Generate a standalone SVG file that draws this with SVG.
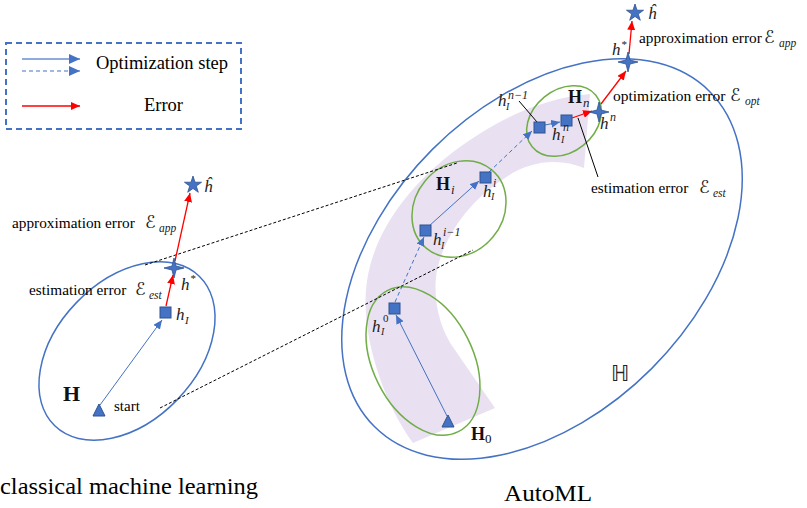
<svg xmlns="http://www.w3.org/2000/svg" xmlns:xlink="http://www.w3.org/1999/xlink" width="807" height="508" viewBox="0 0 807 508">
<style>
.t{font-family:"Liberation Serif",serif;fill:#000}
.m{font-family:"Liberation Serif","DejaVu Serif",serif;font-style:italic;fill:#222}
.b{font-family:"Liberation Serif","DejaVu Serif",serif;font-weight:bold;fill:#111}
.scr{font-family:"DejaVu Serif","DejaVu Sans",serif;font-style:italic;fill:#222}
.ds{font-family:"DejaVu Sans","Noto Sans",sans-serif;fill:#222}
.sq{fill:#4472C4;stroke:#2F528F;stroke-width:1}
.st{fill:#4472C4;stroke:#2F528F;stroke-width:0.8}
.ab{stroke:#4472C4;stroke-width:1;fill:none;marker-end:url(#mb)}
.ad{stroke:#4472C4;stroke-width:1;fill:none;stroke-dasharray:4,3;marker-end:url(#mb)}
.ar{stroke:#FF0000;stroke-width:1.3;fill:none;marker-end:url(#mr)}
.blk{stroke:#000;stroke-width:1;fill:none;stroke-dasharray:3,2}
.ell{fill:none;stroke:#4472C4;stroke-width:1.5}
.gr{fill:none;stroke:#70AD47;stroke-width:1.5}
.ld{stroke:#000;stroke-width:1;fill:none}
</style>
<defs>
<marker id="mb" markerUnits="userSpaceOnUse" markerWidth="9" markerHeight="8" refX="9" refY="4" orient="auto"><path d="M0,0 L9,4 L0,8 z" fill="#4472C4"/></marker>
<marker id="mr" markerUnits="userSpaceOnUse" markerWidth="9" markerHeight="8" refX="9" refY="4" orient="auto"><path d="M0,0 L9,4 L0,8 z" fill="#FF0000"/></marker>
<marker id="mbl" markerUnits="userSpaceOnUse" markerWidth="11" markerHeight="10" refX="11" refY="5" orient="auto"><path d="M0,0 L11,5 L0,10 z" fill="#4472C4"/></marker>
<path id="star5" d="M0,-9 L2.02,-2.78 L8.56,-2.78 L3.27,1.06 L5.29,7.28 L0,3.44 L-5.29,7.28 L-3.27,1.06 L-8.56,-2.78 L-2.02,-2.78Z"/>
<path id="star4" d="M0,-10 L2,-2 L10,0 L2,2 L0,10 L-2,2 L-10,0 L-2,-2Z"/>
</defs>
<rect width="807" height="508" fill="#fff"/>

<g id="legend">
<rect x="6" y="43" width="235" height="86" fill="none" stroke="#4472C4" stroke-width="2" stroke-dasharray="6,4"/>
<line x1="22" y1="59" x2="80" y2="59" stroke="#8FAADC" stroke-width="2" marker-end="url(#mbl)"/>
<line x1="22" y1="71" x2="80" y2="71" stroke="#4472C4" stroke-width="1.2" stroke-dasharray="4,3" marker-end="url(#mbl)"/>
<line x1="22" y1="106" x2="80" y2="106" stroke="#FF0000" stroke-width="1.5" marker-end="url(#mr)"/>
<text class="t" x="96" y="69" font-size="18.5">Optimization step</text>
<text class="t" x="144" y="111" font-size="18.5">Error</text>
</g>

<g id="band">
<path d="M413,443 C385,405 362,340 366,290 C370,235 410,180 470,140 C505,116 545,98 590,94 L584,168 C560,158 530,160 505,178 C470,200 445,235 437,270 C432,300 440,330 455,350 L495,408 Z" fill="#E9E1F1"/>
</g>

<g id="space-H-classical">
<ellipse class="ell" cx="127" cy="351" rx="70" ry="104" transform="rotate(44 127 351)"/>
<text class="b" x="63" y="401" font-size="22">H</text>
</g>

<g id="space-HH">
<ellipse class="ell" cx="542" cy="259" rx="155" ry="237" transform="rotate(45 542 259)"/>
<text class="ds" x="611" y="381" font-size="22">ℍ</text>
</g>

<g id="space-H0">
<ellipse class="gr" cx="423" cy="361" rx="50" ry="79" transform="rotate(-26.5 423 361)"/>
<text class="b" x="471" y="440" font-size="18">H<tspan font-size="13" font-weight="normal" dy="3">0</tspan></text>
</g>
<g id="space-Hi">
<ellipse class="gr" cx="459" cy="209" rx="44" ry="51" transform="rotate(40 459 209)"/>
<text class="b" x="436" y="190" font-size="18">H</text>
<text class="m" x="451" y="194" font-size="13">i</text>
</g>
<g id="space-Hn">
<ellipse class="gr" cx="564" cy="121" rx="31" ry="41" transform="rotate(51 564 121)"/>
<text class="b" x="568" y="103" font-size="18">H</text>
<text class="m" x="583" y="107" font-size="13">n</text>
</g>

<g id="connectors">
<line class="blk" x1="145" y1="265" x2="457" y2="163"/>
<line class="blk" x1="160" y1="408" x2="473" y2="250"/>
<line class="ab" x1="100" y1="405" x2="162" y2="320"/>
<line class="ar" x1="166" y1="306" x2="173" y2="275"/>
<line class="ar" x1="175" y1="261" x2="190" y2="193"/>
<line class="ab" x1="447" y1="416" x2="396" y2="315"/>
<line class="ad" x1="395" y1="302" x2="424" y2="237"/>
<line class="ab" x1="429" y1="226" x2="479" y2="181"/>
<line class="ad" x1="489" y1="172" x2="532" y2="131"/>
<line class="ab" x1="545" y1="125" x2="560" y2="122"/>
<line class="ar" x1="572" y1="118" x2="592" y2="111"/>
<line class="ar" x1="601" y1="104" x2="626" y2="71"/>
<line class="ar" x1="629" y1="54" x2="632" y2="21"/>
<line class="ld" x1="519" y1="101" x2="537" y2="122"/>
<line class="ld" x1="578" y1="118" x2="598" y2="177"/>
</g>

<g id="start">
<path class="sq" d="M99,404 L105,416 L93,416 Z"/>
<text class="t" x="114" y="411" font-size="15">start</text>
</g>
<g id="hI-classical">
<rect class="sq" x="160" y="307" width="11" height="11"/>
<text class="m" x="176" y="320" font-size="17">h</text>
<text class="m" x="185" y="324" font-size="11">I</text>
</g>
<g id="hstar-classical">
<use href="#star4" x="174" y="268" class="st"/>
<text class="m" x="181" y="290" font-size="17">h</text>
<text class="m" x="190" y="282" font-size="11">*</text>
<text class="t" x="29" y="295" font-size="15.3">estimation error</text>
<text class="scr" x="135" y="295" font-size="17.5">ℰ</text>
<text class="m" x="149" y="299" font-size="11.5">est</text>
</g>
<g id="hhat-classical">
<use href="#star5" x="193" y="185" class="st"/>
<text class="m" x="204" y="192" font-size="17">ĥ</text>
<text class="t" x="12" y="228" font-size="15.3">approximation error</text>
<text class="scr" x="145" y="228" font-size="17.5">ℰ</text>
<text class="m" x="159" y="232" font-size="11.5">app</text>
</g>

<g id="start-H0">
<path class="sq" d="M448,415 L454,427 L442,427 Z"/>
</g>
<g id="hI0">
<rect class="sq" x="389" y="303" width="11" height="11"/>
<text class="m" x="372" y="332" font-size="17">h</text>
<text class="m" x="383" y="322" font-size="11" style="font-style:normal">0</text>
<text class="m" x="381" y="335" font-size="10">I</text>
</g>
<g id="hIi-1">
<rect class="sq" x="420" y="225" width="11" height="11"/>
<text class="m" x="433" y="245" font-size="17">h</text>
<text class="m" x="443" y="236" font-size="12">i−1</text>
<text class="m" x="441" y="249" font-size="10">I</text>
</g>
<g id="hIi">
<rect class="sq" x="480" y="172" width="11" height="11"/>
<text class="m" x="483" y="197" font-size="17">h</text>
<text class="m" x="493" y="187" font-size="12">i</text>
<text class="m" x="491" y="200" font-size="10">I</text>
</g>
<g id="hIn-1">
<rect class="sq" x="534" y="122" width="11" height="11"/>
<text class="m" x="498" y="106" font-size="17">h</text>
<text class="m" x="508" y="99" font-size="12">n−1</text>
<text class="m" x="506" y="110" font-size="10">I</text>
</g>
<g id="hIn">
<rect class="sq" x="561" y="115" width="11" height="11"/>
<text class="m" x="552" y="140" font-size="17">h</text>
<text class="m" x="563" y="131" font-size="12">n</text>
<text class="m" x="561" y="143" font-size="10">I</text>
<text class="t" x="591" y="193" font-size="15.3">estimation error</text>
<text class="scr" x="699" y="193" font-size="17.5">ℰ</text>
<text class="m" x="713" y="197" font-size="11.5">est</text>
</g>
<g id="hn">
<use href="#star4" x="599" y="112" class="st"/>
<text class="m" x="600" y="129" font-size="17">h</text>
<text class="m" x="610" y="121" font-size="12">n</text>
<text class="t" x="613" y="101" font-size="15.5">optimization error</text>
<text class="scr" x="730" y="101" font-size="17.5">ℰ</text>
<text class="m" x="745" y="105" font-size="11.5">opt</text>
</g>
<g id="hstar">
<use href="#star4" x="628" y="62" class="st"/>
<text class="m" x="612" y="55" font-size="17">h</text>
<text class="m" x="621" y="48" font-size="11">*</text>
</g>
<g id="hhat">
<use href="#star5" x="635" y="13" class="st"/>
<text class="m" x="648" y="19" font-size="17">ĥ</text>
<text class="t" x="639" y="43" font-size="15.3">approximation error</text>
<text class="scr" x="764" y="43" font-size="17.5">ℰ</text>
<text class="m" x="779" y="47" font-size="11.5">app</text>
</g>

<g id="captions">
<text class="t" x="0" y="494" font-size="24" textLength="258" lengthAdjust="spacingAndGlyphs">classical machine learning</text>
<text class="t" x="504" y="501" font-size="24" textLength="88" lengthAdjust="spacingAndGlyphs">AutoML</text>
</g>
</svg>
